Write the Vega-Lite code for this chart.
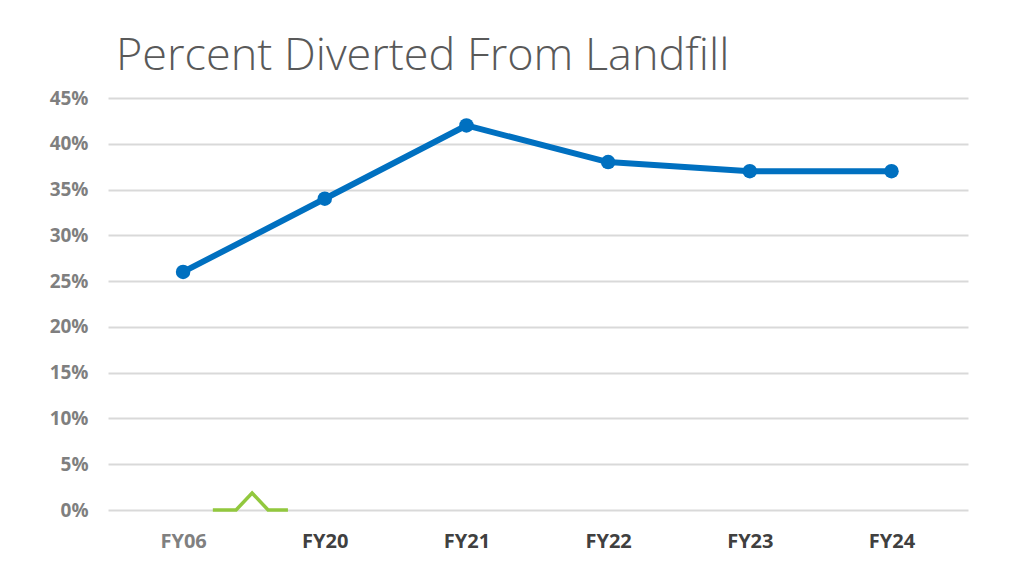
{
  "$schema": "https://vega.github.io/schema/vega-lite/v6.json",
  "width": 860,
  "height": 412,
  "autosize": "none",
  "padding": {"left": 108, "top": 98, "right": 56, "bottom": 61},
  "background": "white",
  "title": {
    "text": "Percent Diverted From Landfill",
    "anchor": "start",
    "frame": "group",
    "dx": 8,
    "offset": 10,
    "font": "Open Sans",
    "fontWeight": 300,
    "fontSize": 45,
    "color": "#595959"
  },
  "config": {"view": {"stroke": null}},
  "datasets": {
    "main": [
      {"year": "FY06", "idx": 0, "pct": 26},
      {"year": "FY20", "idx": 1, "pct": 34},
      {"year": "FY21", "idx": 2, "pct": 42},
      {"year": "FY22", "idx": 3, "pct": 38},
      {"year": "FY23", "idx": 4, "pct": 37},
      {"year": "FY24", "idx": 5, "pct": 37}
    ],
    "brk": [
      {"idx": 0.21, "pct": 0},
      {"idx": 0.374, "pct": 0},
      {"idx": 0.487, "pct": 1.86},
      {"idx": 0.6, "pct": 0},
      {"idx": 0.74, "pct": 0}
    ]
  },
  "layer": [
    {
      "data": {"name": "main"},
      "mark": {"type": "line", "color": "#0070c0", "strokeWidth": 6, "strokeJoin": "round", "point": {"filled": true, "size": 210, "color": "#0070c0"}},
      "encoding": {
        "x": {
          "field": "idx", "type": "quantitative",
          "scale": {"domain": [-0.53, 5.54], "nice": false, "zero": false},
          "axis": {
            "values": [0, 1, 2, 3, 4, 5],
            "labelExpr": "['FY06','FY20','FY21','FY22','FY23','FY24'][datum.value]",
            "title": null, "grid": false, "domain": false, "ticks": false,
            "labelFont": "Open Sans", "labelFontWeight": "bold", "labelFontSize": 20,
            "labelPadding": 21,
            "labelColor": {"condition": {"test": "datum.value == 0", "value": "#808080"}, "value": "#404040"}
          }
        },
        "y": {
          "field": "pct", "type": "quantitative",
          "scale": {"domain": [0, 45], "nice": false},
          "axis": {
            "values": [0, 5, 10, 15, 20, 25, 30, 35, 40, 45],
            "labelExpr": "datum.value + '%'",
            "title": null, "domain": false, "ticks": false,
            "gridColor": "#d9d9d9", "gridWidth": 2,
            "labelFont": "Open Sans", "labelFontWeight": "bold", "labelFontSize": 19,
            "labelColor": "#7f7f7f", "labelPadding": 20
          }
        }
      }
    },
    {
      "data": {"name": "brk"},
      "mark": {"type": "line", "color": "#92c83e", "strokeWidth": 3.5},
      "encoding": {
        "x": {"field": "idx", "type": "quantitative"},
        "y": {"field": "pct", "type": "quantitative"}
      }
    }
  ]
}
